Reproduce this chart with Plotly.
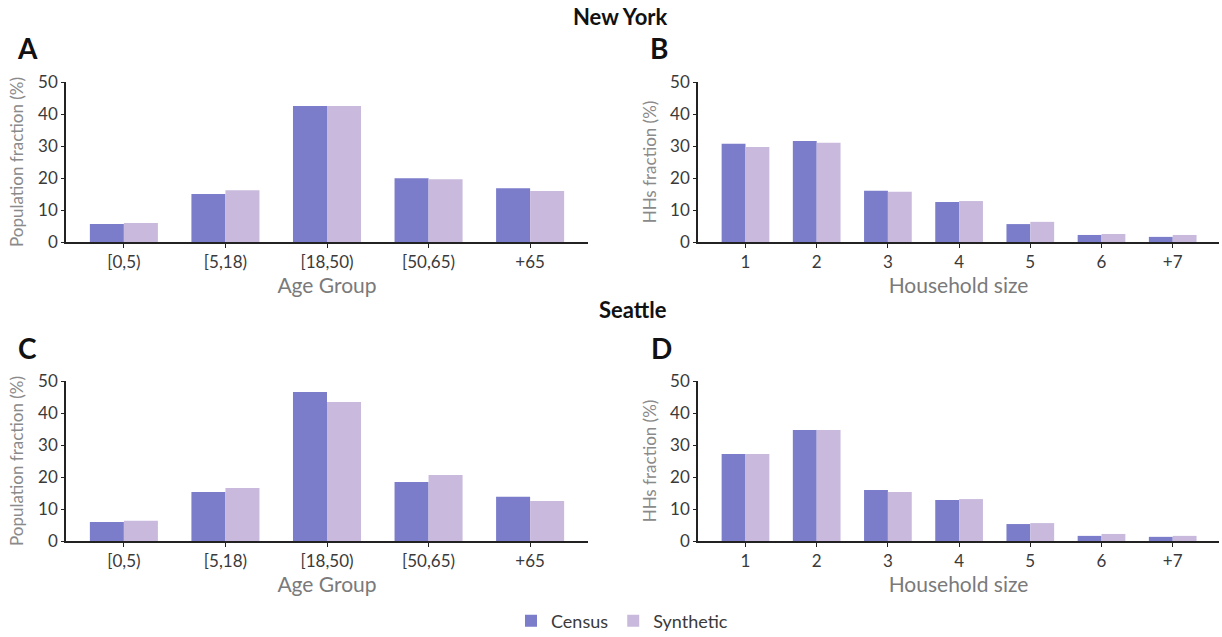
import plotly.graph_objects as go

age_groups = ["[0,5)", "[5,18)", "[18,50)", "[50,65)", "+65"]
hh_sizes = ["1", "2", "3", "4", "5", "6", "+7"]

ny_age_census = [5.6, 15.0, 42.5, 19.9, 16.8]
ny_age_synth = [5.9, 16.2, 42.5, 19.6, 15.9]
ny_hh_census = [30.7, 31.6, 16.0, 12.5, 5.6, 2.2, 1.6]
ny_hh_synth = [29.7, 31.0, 15.7, 12.8, 6.3, 2.5, 2.2]

sea_age_census = [5.9, 15.3, 46.6, 18.4, 13.8]
sea_age_synth = [6.3, 16.6, 43.4, 20.6, 12.5]
sea_hh_census = [27.2, 34.7, 15.9, 12.8, 5.3, 1.6, 1.3]
sea_hh_synth = [27.2, 34.7, 15.3, 13.1, 5.6, 2.2, 1.6]

C_CENSUS = "#7b7dcb"
C_SYNTH = "#c9badd"
FONT = "Lato"

W, H = 1222, 637
fig = go.Figure()

panels = [
    ("x", "y", age_groups, ny_age_census, ny_age_synth, True),
    ("x2", "y2", hh_sizes, ny_hh_census, ny_hh_synth, False),
    ("x3", "y3", age_groups, sea_age_census, sea_age_synth, False),
    ("x4", "y4", hh_sizes, sea_hh_census, sea_hh_synth, False),
]
for xa, ya, cats, cen, syn, show in panels:
    fig.add_trace(go.Bar(x=cats, y=cen, name="Census", marker_color=C_CENSUS,
                         marker_line_width=0, xaxis=xa, yaxis=ya, showlegend=show,
                         legendgroup="c"))
    fig.add_trace(go.Bar(x=cats, y=syn, name="Synthetic", marker_color=C_SYNTH,
                         marker_line_width=0, xaxis=xa, yaxis=ya, showlegend=show,
                         legendgroup="s"))

def px_x(p):
    return p / W

def px_y(p):
    return 1 - p / H

xdom_left = [px_x(66), px_x(588)]
xdom_right = [px_x(698), px_x(1219)]
ydom_top = [px_y(242), px_y(82)]
ydom_bot = [px_y(541), px_y(381)]

tickfont = dict(family=FONT, size=17, color="#3a3a3a")
xtitlefont = dict(family=FONT, size=21, color="#7a7a7a")
ytitlefont = dict(family=FONT, size=17, color="#8a8a8a")

def xaxis(dom, anchor, n, title):
    lo = -0.57 if n == 5 else -0.667
    hi = (n - 1) + (0.57 if n == 5 else 0.65)
    return dict(domain=dom, anchor=anchor, range=[lo, hi], automargin=False,
                showline=True, linecolor="#222", linewidth=1.5, ticks="outside",
                ticklen=4, tickcolor="#222", showgrid=False, tickfont=tickfont,
                title=dict(text=title, font=xtitlefont, standoff=4), fixedrange=True)

def yaxis(dom, anchor, title, standoff):
    return dict(domain=dom, anchor=anchor, range=[0, 50], dtick=10, automargin=False,
                showline=True, linecolor="#222", linewidth=1.5, ticks="outside",
                ticklen=3, tickcolor="#222", showgrid=False, zeroline=False, fixedrange=True,
                tickfont=tickfont, title=dict(text=title, font=ytitlefont, standoff=standoff))

fig.update_layout(
    width=W, height=H,
    margin=dict(l=0, r=0, t=0, b=0, autoexpand=False),
    paper_bgcolor="white", plot_bgcolor="white",
    barmode="group", bargap=0.33, bargroupgap=0,
    font=dict(family=FONT),
    xaxis=xaxis(xdom_left, "y", 5, "Age Group"),
    yaxis=yaxis(ydom_top, "x", "Population fraction (%)", 10),
    xaxis2=xaxis(xdom_right, "y2", 7, "Household size"),
    yaxis2=yaxis(ydom_top, "x2", "HHs fraction (%)", 9),
    xaxis3=xaxis(xdom_left, "y3", 5, "Age Group"),
    yaxis3=yaxis(ydom_bot, "x3", "Population fraction (%)", 10),
    xaxis4=xaxis(xdom_right, "y4", 7, "Household size"),
    yaxis4=yaxis(ydom_bot, "x4", "HHs fraction (%)", 9),
    legend=dict(orientation="h", x=0.509, xanchor="center", y=px_y(621), yanchor="middle",
                font=dict(family=FONT, size=18, color="#3a3a3a"), itemwidth=30,
                traceorder="normal"),
)

annos = [
    ("New York", 620, 17, 22),
    ("Seattle", 633, 309, 22),
    ("A", 27, 48, 28),
    ("B", 659, 48, 28),
    ("C", 27, 348, 28),
    ("D", 661, 348, 28),
]
for text, xp, yp, size in annos:
    fig.add_annotation(text=f"<b>{text}</b>", x=px_x(xp), y=px_y(yp), xref="paper", yref="paper",
                       showarrow=False, xanchor="center", yanchor="middle",
                       font=dict(family=FONT, size=size, color="#111"))

fig.write_html("out.html", config={"displayModeBar": False},
               post_script="document.body.style.margin='0';document.body.style.overflow='hidden';")
